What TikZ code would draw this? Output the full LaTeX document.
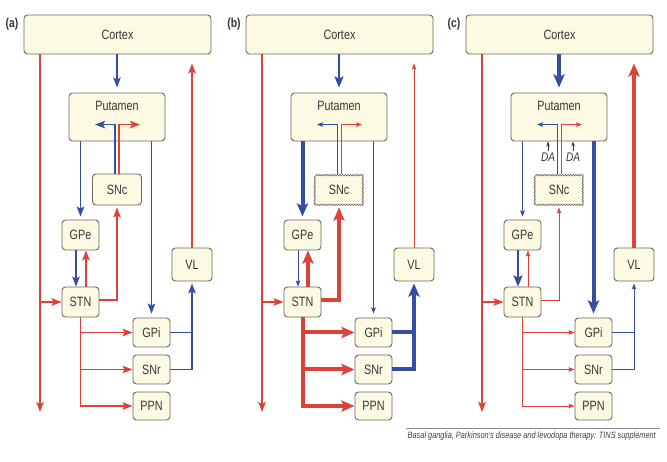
\documentclass[tikz,border=0pt]{standalone}
\usepackage{fontspec}
\setmainfont[FakeStretch=0.8]{Liberation Sans}
\usetikzlibrary{arrows.meta,decorations.pathmorphing,calc}
\definecolor{bgred}{RGB}{222,64,58}
\definecolor{bgblue}{RGB}{52,78,162}
\definecolor{boxfill}{RGB}{252,250,226}
\definecolor{boxline}{RGB}{105,105,95}
\definecolor{txt}{RGB}{55,55,55}
\tikzset{
  nbox/.style={draw=boxline, line width=0.9pt, fill=boxfill, rounded corners=3.5pt, inner sep=0pt, text=txt, font=\fontsize{13.5}{13.5}\selectfont},
  wboxfill/.style={nbox, draw=none},
  wavyline/.style={draw=boxline, line width=0.6pt, decorate, decoration={snake, segment length=2.6pt, amplitude=0.75pt}},
  plainline/.style={},
  w1/.style={line width=0.8pt, >={Stealth[length=6pt,width=4.5pt,inset=1pt]}},
  w2/.style={line width=1.5pt, >={Stealth[length=10pt,width=7.5pt,inset=2pt]}},
  w3/.style={line width=2.6pt, >={Stealth[length=11pt,width=9pt,inset=2pt]}},
  w4/.style={line width=4pt, >={Stealth[length=13pt,width=11pt,inset=2.5pt]}},
  dalab/.style={text=txt, font=\itshape\fontsize{12.5}{12.5}\selectfont, inner sep=0pt},
}
\newcommand\bgpanel[3]{%
\begin{scope}[shift={(#1,0)}]
\node[font=\bfseries\fontsize{13}{13}\selectfont, text=txt] (#2-lab) at (12,24) {(#3)};
\node[nbox, minimum width=187pt, minimum height=39pt] (#2-cortex) at (117.5,34.5) {Cortex};
\node[nbox, minimum width=96pt, minimum height=48pt] (#2-put) at (117,117) {};
\node[text=txt, font=\fontsize{13.5}{13.5}\selectfont, inner sep=0pt] (#2-putlab) at (117,106) {Putamen};
\node[ksnc, minimum width=49pt, minimum height=31pt] (#2-snc) at (117,189.5) {SNc};
\path[ksncl] ([shift={(0.6pt,0.6pt)}]#2-snc.south west) -- ([shift={(-0.6pt,0.6pt)}]#2-snc.south east) -- ([shift={(-0.6pt,-0.6pt)}]#2-snc.north east) -- ([shift={(0.6pt,-0.6pt)}]#2-snc.north west) -- cycle;
\node[nbox, minimum width=37pt, minimum height=30pt] (#2-gpe) at (80.5,235) {GPe};
\node[nbox, minimum width=37pt, minimum height=30pt] (#2-stn) at (80.5,302) {STN};
\node[nbox, minimum width=40pt, minimum height=33pt] (#2-vl) at (192,264.5) {VL};
\node[nbox, minimum width=37pt, minimum height=29pt] (#2-gpi) at (151.5,332.5) {GPi};
\node[nbox, minimum width=37pt, minimum height=29pt] (#2-snr) at (151.5,369.5) {SNr};
\node[nbox, minimum width=37pt, minimum height=28pt] (#2-ppn) at (151.5,406) {PPN};
\coordinate (#2-bot) at (40,412);
% left red
\draw[bgred,klf,->] (#2-cortex.south -| #2-bot) -- (#2-bot);
\draw[bgred,klf,->] (#2-stn.west -| #2-bot) -- (#2-stn.west);
% VL to cortex
\draw[bgred,kvc,->,shorten >=9pt] (#2-vl.north) -- (#2-vl.north |- #2-cortex.south);
% cortex to putamen
\draw[bgblue,kcp,->,shorten >=5pt] (#2-cortex.south -| #2-put.north) -- (#2-put.north);
% putamen outputs
\draw[bgblue,kpge,->,shorten >=3pt] (#2-gpe.north |- #2-put.south) -- (#2-gpe.north);
\draw[bgblue,kpgi,->,shorten >=4pt] (#2-gpi.north |- #2-put.south) -- (#2-gpi.north);
% SNc to putamen
\draw[bgblue,ksn,->] ([xshift=-2pt]#2-snc.north) -- ++(0,-49) -- ++(-20,0);
\draw[bgred,ksn,->] ([xshift=2pt]#2-snc.north) -- ++(0,-49) -- ++(21,0);
% GPe <-> STN
\draw[bgblue,kgs,->] ([xshift=-4.5pt]#2-gpe.south) -- ([xshift=-4.5pt]#2-stn.north);
\draw[bgred,ksg,->] ([xshift=5.5pt]#2-stn.north) -- ([xshift=5.5pt]#2-gpe.south);
% STN to SNc
\draw[bgred,kssn,->,shorten >=2pt] ([yshift=2pt]#2-stn.east) -| (#2-snc.south);
% STN outputs
\draw[bgred,kso,->] (#2-stn.south) |- (#2-ppn.west);
\draw[bgred,kso,->] (#2-stn.south |- #2-gpi.west) -- (#2-gpi.west);
\draw[bgred,kso,->] (#2-stn.south |- #2-snr.west) -- (#2-snr.west);
% outputs to VL
\draw[bgblue,kov] (#2-gpi.east) -- (#2-gpi.east -| #2-vl.south);
\draw[bgblue,kov,->,shorten >=2pt] (#2-snr.east) -| (#2-vl.south);
\end{scope}}
\begin{document}
\begin{tikzpicture}[x=1pt,y=-1pt]
\useasboundingbox[fill=white] (0,0) rectangle (667,462);
% panel (a)
\tikzset{ksnc/.style={nbox}, ksncl/.style={plainline}, klf/.style={w2}, kvc/.style={w2}, kcp/.style={w2}, kpge/.style={w2}, kpgi/.style={w2}, ksn/.style={w2}, kgs/.style={w2}, ksg/.style={w2}, kssn/.style={w2}, kso/.style={w2}, kov/.style={w2}}
\bgpanel{0}{a}{a}
% panel (b)
\tikzset{ksnc/.style={wboxfill}, ksncl/.style={wavyline}, klf/.style={w2}, kvc/.style={w1}, kcp/.style={w3}, kpge/.style={w4}, kpgi/.style={w1}, ksn/.style={w1}, kgs/.style={w1}, ksg/.style={w4}, kssn/.style={w4}, kso/.style={w4}, kov/.style={w4}}
\bgpanel{222}{b}{b}
% panel (c)
\tikzset{ksnc/.style={wboxfill}, ksncl/.style={wavyline}, klf/.style={w2}, kvc/.style={w4}, kcp/.style={w4}, kpge/.style={w1}, kpgi/.style={w4}, ksn/.style={w1}, kgs/.style={w3}, ksg/.style={w1}, kssn/.style={w1}, kso/.style={w1}, kov/.style={w1}}
\bgpanel{442}{c}{c}
% DA labels in panel (c)
\node[dalab] (c-da1) at (548,157) {DA};
\node[dalab] (c-da2) at (573,157) {DA};
\draw[black!80, line width=0.7pt, -{Stealth[length=5pt,width=3.5pt]}] ([yshift=1pt]c-da1.north) -- (c-da1.north |- c-put.south);
\draw[black!80, line width=0.7pt, -{Stealth[length=5pt,width=3.5pt]}] ([yshift=1pt]c-da2.north) -- (c-da2.north |- c-put.south);
% caption
\node[anchor=east, text=black!75, font=\itshape\fontsize{9.2}{9.2}\selectfont, inner sep=0pt] (cap) at (656,436) {Basal ganglia, Parkinson's disease and levodopa therapy: TINS supplement};
\draw[black!45, line width=0.5pt] ([xshift=-2pt,yshift=3pt]cap.north west) -- ([xshift=4pt,yshift=3pt]cap.north east);
\end{tikzpicture}
\end{document}
